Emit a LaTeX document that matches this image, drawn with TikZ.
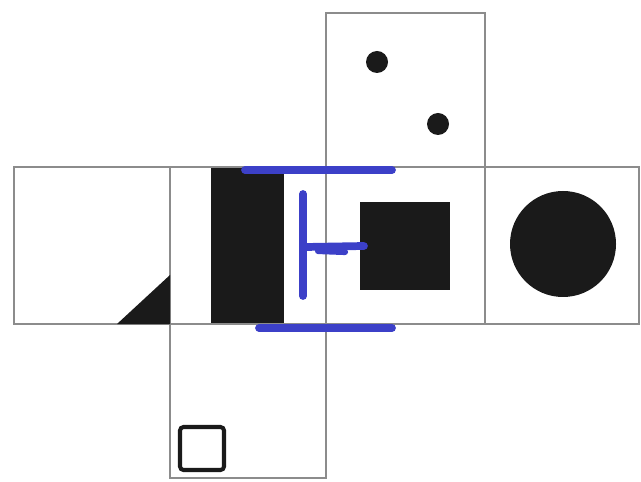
\documentclass[tikz,border=0pt]{standalone}
\usepackage{tikz}
\definecolor{edge}{HTML}{8C8C8C}
\definecolor{ink}{HTML}{1A1A1A}
\definecolor{penblue}{HTML}{3C40C8}

\begin{document}
\begin{tikzpicture}[x=0.02cm,y=-0.02cm,
face/.style={draw=edge,line width=1.4pt},
blob/.style={fill=ink},
scribble/.style={draw=penblue,line width=4.4pt,line cap=round}]
\useasboundingbox (0,0) rectangle (641,482);
% cube net
\draw[face] (326,13) rectangle (485,167);
\draw[face] (14,167) rectangle (639,324);
\draw[face] (170,324) rectangle (326,478);
\draw[face] (170,167)--(170,324) (326,167)--(326,324) (485,167)--(485,324);
% pictures on the faces
\fill[blob] (117,324)--(170,324)--(170,275)--cycle;
\fill[blob] (211,168) rectangle (284,323);
\fill[blob] (360,202) rectangle (450,290);
\fill[blob] (563,244) circle (53);
\fill[blob] (377,62) circle (11);
\fill[blob] (438,124) circle (11);
\draw[ink,line width=2.3pt,rounded corners=2pt] (180,427) rectangle (224,470);
% pen marks
\draw[scribble] (245,170)--(392,170);
\draw[scribble] (259,328)--(392,328);
\draw[scribble] (303,194)--(303,296);
\draw[scribble] (305,247)--(364,246);
\draw[scribble,line width=3.5pt] (318,251)--(345,252);
\end{tikzpicture}
\end{document}
